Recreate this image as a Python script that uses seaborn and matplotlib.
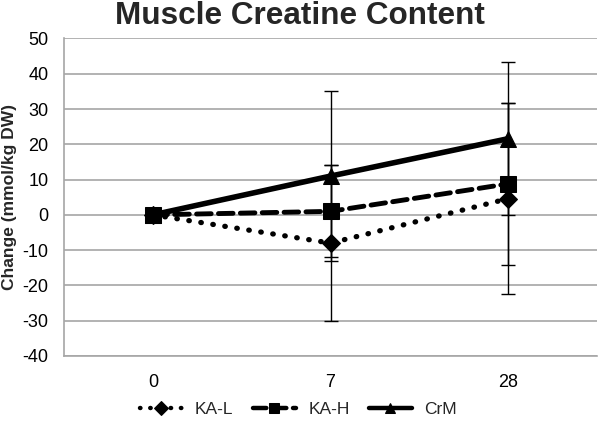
import matplotlib
matplotlib.use("Agg")
import matplotlib.pyplot as plt
import seaborn as sns
import pandas as pd
import numpy as np

days = ["0", "7", "28"]
series = ["KA-L", "KA-H", "CrM"]
ka_l = [0, -8, 4.6]
ka_h = [0, 1, 8.8]
crm = [0, 11, 21.6]
ka_l_err = [np.nan, 22, 27]
ka_h_err = [np.nan, 13, 23]
crm_err = [np.nan, 24, 21.7]
y_ticks = [-40, -30, -20, -10, 0, 10, 20, 30, 40, 50]

sns.set_theme(style="white")
plt.rcParams["font.family"] = ["Liberation Sans", "DejaVu Sans"]

df = pd.DataFrame({
    "day": days * 3,
    "group": [s for s in series for _ in days],
    "value": ka_l + ka_h + crm,
})

fig = plt.figure(figsize=(6.0, 4.22), dpi=100)
ax = fig.add_axes([0.1067, 0.1564, 0.8883, 0.7524])

styles = {
    "KA-L": dict(ls=(0, (0.1, 2.2)), marker="D", ms=9, lw=3.8),
    "KA-H": dict(ls=(0, (3.0, 1.5)), marker="s", ms=12, lw=3.5),
    "CrM": dict(ls="-", marker="^", ms=12, lw=4.0),
}
errs = {"KA-L": ka_l_err, "KA-H": ka_h_err, "CrM": crm_err}

for s in series:
    sub = df[df.group == s]
    st = styles[s]
    sns.lineplot(data=sub, x="day", y="value", ax=ax, color="black",
                 linestyle=st["ls"], linewidth=st["lw"], marker=st["marker"],
                 markersize=st["ms"], markeredgecolor="black", label=s,
                 sort=False, zorder=3)
    ax.errorbar(days, sub["value"].values, yerr=errs[s], fmt="none",
                ecolor="black", elinewidth=1.0, capsize=5, capthick=1.0, zorder=2)

for line in ax.get_lines():
    line.set_dash_capstyle("round")

ax.set_xlim(-0.5, 2.5)
ax.set_ylim(-40, 50)
ax.set_yticks(y_ticks)
ax.set_yticklabels([str(t) for t in y_ticks])
ax.yaxis.grid(True, color="#a6a6a6", lw=1.2)
ax.xaxis.grid(False)
for side in ["top", "right"]:
    ax.spines[side].set_visible(False)
for side in ["left", "bottom"]:
    ax.spines[side].set_color("#a6a6a6")
    ax.spines[side].set_linewidth(1.2)
ax.tick_params(axis="both", length=0, labelsize=13, colors="black")
ax.tick_params(axis="y", pad=11)
ax.tick_params(axis="x", pad=13)
ax.set_xlabel("")
ax.set_ylabel("Change (mmol/kg DW)", fontsize=12.5, fontweight="bold", labelpad=4)
fig.suptitle("Muscle Creatine Content", fontsize=22.7, fontweight="bold", y=0.998, x=0.5)

leg = ax.legend(loc="center", ncol=3, frameon=False, fontsize=12.5,
                handlelength=2.5, columnspacing=1.1, handletextpad=0.7)
leg.set_bbox_to_anchor((0.497, 0.03), transform=fig.transFigure)
for h in leg.legend_handles:
    h.set_markersize(7)
    h.set_linewidth(3.2)

fig.savefig("out.png", dpi=100)
